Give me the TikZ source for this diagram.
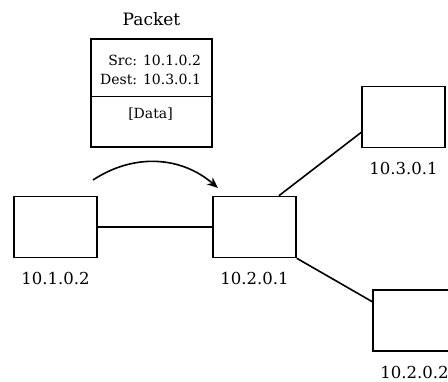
\documentclass[tikz,border=0pt]{standalone}
\usepackage{fontspec}
\setmainfont{DejaVu Serif}
\usepackage{tikz}
\usetikzlibrary{arrows.meta}

\begin{document}
\begin{tikzpicture}[x=1pt, y=1pt, label distance=14pt,
	host/.style={draw, rectangle, minimum width=83pt, minimum height=61pt,
		line width=1.6pt, inner sep=0pt},
	every label/.style={font=\fontsize{16.5}{18}\selectfont, inner sep=0pt},
	pkttext/.style={font=\fontsize{14}{19}\selectfont, inner sep=0pt}]
	  \useasboundingbox (0,0) rectangle (448,381);

	  \node[host, label=below:10.1.0.2] (h1) at (55.5,154) {};
	  \node[host, label=below:10.2.0.1] (r)  at (254.5,154) {};
	  \node[host, label=below:10.3.0.1] (h3) at (403.5,264) {};
	  \node[host, label=below:10.2.0.2] (h2) at (414.5,60.5) {};

	  \path[line width=1.6pt] (h1) edge (r)
		(r.52) edge (h3.200)
		(r.south east) edge (h2.156);

	  % the packet
	  \node[draw, line width=1.2pt, minimum width=121pt, minimum height=108pt,
		label={[label distance=12pt, font=\fontsize{17}{18}\selectfont]above:Packet}] (pkt) at (151.5,288) {};
	  \coordinate (cut) at (0,284);
	  \draw[line width=1pt] (pkt.west |- cut) -- (pkt.east |- cut);
	  \node[pkttext, align=right] (hdr) at (150.5,311.5) {Src: 10.1.0.2\\Dest: 10.3.0.1};
	  \node[pkttext] (data) at (150.5,267) {[Data]};

	  \coordinate (go) at (93,201);
	  \coordinate (hit) at (218,193);
	  \draw[-{Stealth[length=11pt, width=9pt]}, line width=1.6pt] (go) to[bend left=37] (hit);
	\end{tikzpicture}
\end{document}
